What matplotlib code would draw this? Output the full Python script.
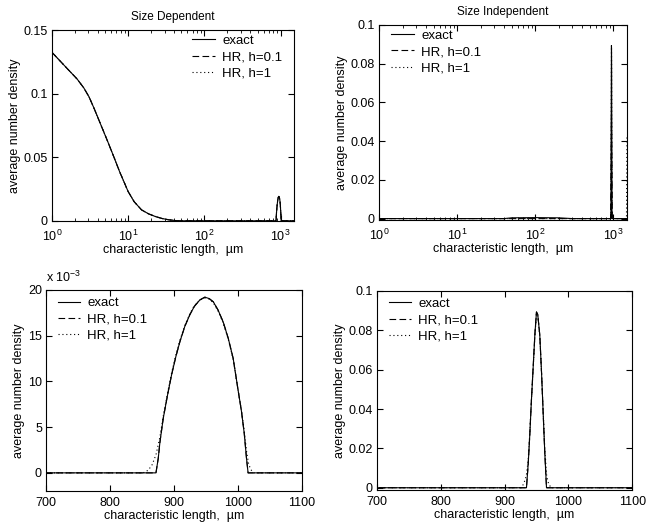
import numpy as np
import matplotlib
matplotlib.use("Agg")
import matplotlib.pyplot as plt
from matplotlib.ticker import FuncFormatter, FixedLocator

plt.rcParams["font.family"] = ["Liberation Sans", "DejaVu Sans"]
plt.rcParams["mathtext.fontset"] = "custom"
plt.rcParams["mathtext.rm"] = "Liberation Sans"
plt.rcParams["mathtext.it"] = "Liberation Sans:italic"
plt.rcParams["font.size"] = 9

# ───────── data ─────────
# size dependent: small-size decay (um, number density)
sd_small_x = [1, 1.57, 2.14, 2.62, 3.06, 3.57, 4.39, 5.4, 6.6, 7.72, 10, 12, 15, 18.5,
              22.7, 28, 34, 45]
sd_small_y = [0.1325, 0.12, 0.1115, 0.1045, 0.0976, 0.0885, 0.0754, 0.0623, 0.0492, 0.0387,
              0.023, 0.015, 0.0086, 0.0055, 0.0034, 0.0018, 0.0008, 0.0]

# size dependent: peak around 950 um (x 1e-3)
sd_peak_x = [700, 871.9, 875.5, 878, 883.3, 890, 896.3, 903, 909.4, 917, 925, 932, 940.6, 948.4,
             955, 961.5, 969, 977, 985, 992.7, 1000, 1005.7, 1010, 1013.5, 1016, 1100]
sd_peak_y = [0, 0, 1.6, 3.3, 5.96, 8.5, 10.7, 12.7, 14.35, 16.0, 17.3, 18.2, 18.9, 19.2,
             19.05, 18.7, 17.8, 16.5, 14.7, 12.5, 9.2, 6.7, 4.3, 1.6, 0, 0]

# HR, h=1 smears the edges a little
sd_h1_x = [700, 852, 860, 866, 872, 878, 883.3, 890, 896.3, 903, 909.4, 917, 925, 932, 940.6, 948.4,
           955, 961.5, 969, 977, 985, 992.7, 1000, 1005.7, 1010, 1013.5, 1017, 1021, 1025, 1100]
sd_h1_y = [0, 0, 0.3, 0.9, 2.0, 3.9, 6.2, 8.7, 10.9, 12.9, 14.5, 16.1, 17.4, 18.3, 18.9, 19.1,
           19.0, 18.6, 17.7, 16.4, 14.6, 12.4, 9.2, 6.8, 4.6, 2.4, 0.9, 0.3, 0, 0]

# size independent: narrow peak around 950 um
si_x = [1, 40, 50, 100, 200, 300, 700, 934.3, 937, 939.5, 942, 944.7, 947.5, 950, 952, 955.2,
        958, 960.4, 963, 965.7, 1100, 1500]
si_y = [0, 0, 0.0004, 0.0005, 0.0004, 0, 0, 0, 0.012, 0.0268, 0.044, 0.0606, 0.078, 0.0893,
        0.088, 0.0775, 0.058, 0.0386, 0.018, 0, 0, 0]

si_h1_x = [1, 700, 926, 930, 934, 937, 939.5, 942, 944.7, 947.5, 950, 952, 955.2, 958, 960.4,
           963, 966, 969, 973, 1100, 1480, 1500]
si_h1_y = [0, 0, 0, 0.002, 0.006, 0.014, 0.028, 0.044, 0.060, 0.077, 0.0885, 0.0875, 0.077,
           0.058, 0.040, 0.020, 0.006, 0.002, 0, 0, 0, 0.043]

# HR, h=0.1 as sampled on the log plot
si_h01_log_x = [1, 700, 925, 951, 975, 1500]
si_h01_log_y = [0, 0, 0, 0.053, 0, 0]

sd_x = sd_small_x + sd_peak_x + [1500]
sd_y = sd_small_y + [v * 1e-3 for v in sd_peak_y] + [0]
sd_h1_all_x = sd_small_x + sd_h1_x + [1500]
sd_h1_all_y = sd_small_y + [v * 1e-3 for v in sd_h1_y] + [0]

xlabel = "characteristic length,  \u00b5m"
ylabel = "average number density"
gfmt = FuncFormatter(lambda v, p: "%g" % round(v, 6))

fig = plt.figure(figsize=(6.49, 5.27), dpi=100)

def make_ax(rect, xpad=4):
    ax = fig.add_axes(rect)
    ax.tick_params(direction="in", top=True, right=True, which="both", length=4)
    ax.tick_params(which="minor", length=2)
    ax.tick_params(axis="x", pad=xpad)
    ax.tick_params(axis="y", pad=3)
    for s in ax.spines.values():
        s.set_linewidth(0.8)
    return ax

def draw(ax, exact, h01, h1):
    ax.plot(*exact, color="black", lw=0.8, label="exact")
    ax.plot(*h01, color="black", lw=0.8, ls=(0, (6, 3)), label="HR, h=0.1")
    ax.plot(*h1, color="black", lw=0.8, ls=(0, (1, 2.5)), label="HR, h=1")

def legend(ax, x, y):
    ax.legend(loc="upper left", bbox_to_anchor=(x, y), frameon=False, borderpad=0,
              borderaxespad=0, handlelength=1.7, handletextpad=0.55, labelspacing=0.3,
              fontsize=9.5)

# ───────── Size Dependent, log axis ─────────
ax1 = make_ax([0.080, 0.581, 0.373, 0.362], xpad=5.5)
draw(ax1, (sd_x, sd_y), (sd_x, sd_y), (sd_h1_all_x, sd_h1_all_y))
ax1.set_xscale("log")
ax1.set_xlim(1, 1500)
ax1.set_ylim(0, 0.15)
ax1.yaxis.set_major_locator(FixedLocator([0, 0.05, 0.1, 0.15]))
ax1.yaxis.set_major_formatter(gfmt)
ax1.set_xlabel(xlabel, labelpad=0)
ax1.set_ylabel(ylabel, labelpad=2)
ax1.set_title("Size Dependent", fontsize=8.5, pad=7)
legend(ax1, 0.58, 0.975)

# ───────── Size Independent, log axis ─────────
ax2 = make_ax([0.584, 0.583, 0.382, 0.370], xpad=5.5)
draw(ax2, (si_x, si_y), (si_h01_log_x, si_h01_log_y), (si_h1_x, si_h1_y))
ax2.set_xscale("log")
ax2.set_xlim(1, 1500)
ax2.set_ylim(-0.0006, 0.1)
ax2.yaxis.set_major_locator(FixedLocator([0, 0.02, 0.04, 0.06, 0.08, 0.1]))
ax2.yaxis.set_major_formatter(gfmt)
ax2.set_xlabel(xlabel, labelpad=0)
ax2.set_ylabel(ylabel, labelpad=2)
ax2.set_title("Size Independent", fontsize=8.5, pad=7)
legend(ax2, 0.05, 0.975)

# ───────── Size Dependent, linear zoom ─────────
ax3 = make_ax([0.071, 0.068, 0.394, 0.382])
pk_y = [v * 1e-3 for v in sd_peak_y]
h1_y = [v * 1e-3 for v in sd_h1_y]
draw(ax3, (sd_peak_x, pk_y), (sd_peak_x, pk_y), (sd_h1_x, h1_y))
ax3.set_xlim(700, 1100)
ax3.set_ylim(-0.002, 0.020)
ax3.xaxis.set_major_locator(FixedLocator([700, 800, 900, 1000, 1100]))
ax3.yaxis.set_major_locator(FixedLocator([0, 0.005, 0.01, 0.015, 0.02]))
ax3.yaxis.set_major_formatter(FuncFormatter(lambda v, p: "%g" % round(v * 1e3, 6)))
ax3.text(0.0, 1.025, r"x 10$^{-3}$", transform=ax3.transAxes, fontsize=9, ha="left", va="bottom")
ax3.set_xlabel(xlabel, labelpad=1)
ax3.set_ylabel(ylabel, labelpad=2)
legend(ax3, 0.045, 0.965)

# ───────── Size Independent, linear zoom ─────────
ax4 = make_ax([0.581, 0.070, 0.393, 0.378])
draw(ax4, (si_x, si_y), (si_x, si_y), (si_h1_x[:-2] + [1100], si_h1_y[:-2] + [0]))
ax4.set_xlim(700, 1100)
ax4.set_ylim(-0.0012, 0.1)
ax4.xaxis.set_major_locator(FixedLocator([700, 800, 900, 1000, 1100]))
ax4.yaxis.set_major_locator(FixedLocator([0, 0.02, 0.04, 0.06, 0.08, 0.1]))
ax4.yaxis.set_major_formatter(gfmt)
ax4.set_xlabel(xlabel, labelpad=1)
ax4.set_ylabel(ylabel, labelpad=2)
legend(ax4, 0.045, 0.965)

fig.savefig("out.png", dpi=100)
